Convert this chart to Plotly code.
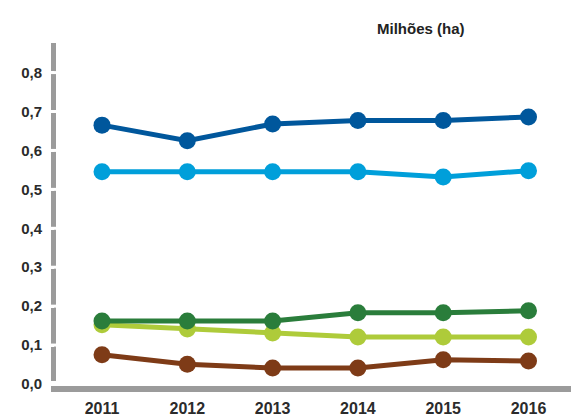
import plotly.graph_objects as go

years = [2011, 2012, 2013, 2014, 2015, 2016]
serie_azul_escuro = [0.665, 0.625, 0.668, 0.677, 0.677, 0.686]
serie_azul_claro = [0.545, 0.545, 0.545, 0.545, 0.532, 0.548]
serie_verde_escuro = [0.162, 0.162, 0.162, 0.183, 0.183, 0.188]
serie_verde_claro = [0.152, 0.141, 0.131, 0.121, 0.121, 0.121]
serie_marrom = [0.075, 0.051, 0.041, 0.041, 0.062, 0.059]
y_ticks = [0.0, 0.1, 0.2, 0.3, 0.4, 0.5, 0.6, 0.7, 0.8]
title_text = "Milhões (ha)"

series = [
    (serie_azul_claro, "#009FDA"),
    (serie_azul_escuro, "#00579C"),
    (serie_marrom, "#7E3B17"),
    (serie_verde_claro, "#AECB3A"),
    (serie_verde_escuro, "#2A7D3B"),
]

FONT = "Liberation Sans, Arial, sans-serif"
AXIS_GRAY = "#9b9b9b"

fig = go.Figure()
for vals, col in series:
    fig.add_trace(go.Scatter(
        x=years, y=vals, mode="lines+markers",
        line=dict(color=col, width=5),
        marker=dict(color=col, size=17),
        showlegend=False, cliponaxis=False,
    ))

shapes = [
    dict(type="line", xref="paper", yref="paper", x0=-0.0029, x1=-0.0029,
         y0=0.0117, y1=1.0, line=dict(color=AXIS_GRAY, width=5), layer="below"),
    dict(type="line", xref="paper", yref="paper", x0=-0.00775, x1=1.0,
         y0=-0.0117, y1=-0.0117, line=dict(color=AXIS_GRAY, width=6), layer="below"),
]
# white notches in the vertical axis at each tick
for t in y_ticks[1:]:
    shapes.append(dict(type="line", xref="paper", yref="y", x0=-0.014, x1=0.004,
                       y0=t, y1=t, line=dict(color="white", width=3), layer="above"))

fig.update_layout(
    width=571, height=418,
    margin=dict(l=55, r=0, t=43, b=33),
    paper_bgcolor="white", plot_bgcolor="white",
    separators=",.",
    font=dict(family=FONT, color="#2b2b2b"),
    xaxis=dict(
        range=[2010.449, 2016.498], tickvals=years, ticktext=[str(y) for y in years],
        showgrid=False, zeroline=False, showline=False,
        ticks="", tickfont=dict(size=16, family=FONT, weight="bold", color="#2b2b2b"),
        ticklabelstandoff=12,
    ),
    yaxis=dict(
        range=[-0.0026, 0.876], tickvals=y_ticks, tickformat=".1f",
        showgrid=False, zeroline=False, showline=False,
        ticks="outside", ticklen=4, tickwidth=3, tickcolor="white",
        tickfont=dict(size=15, family=FONT, weight="bold", color="#2b2b2b"),
        ticklabelstandoff=5,
    ),
    shapes=shapes,
    annotations=[dict(
        text=title_text, xref="paper", yref="paper", x=0.709, y=1.041,
        xanchor="center", yanchor="middle", showarrow=False,
        font=dict(size=15, family=FONT, color="#222", weight="bold"),
    )],
)

fig.write_html("out.html", config={"displayModeBar": False},
               post_script="document.body.style.margin='0';")
